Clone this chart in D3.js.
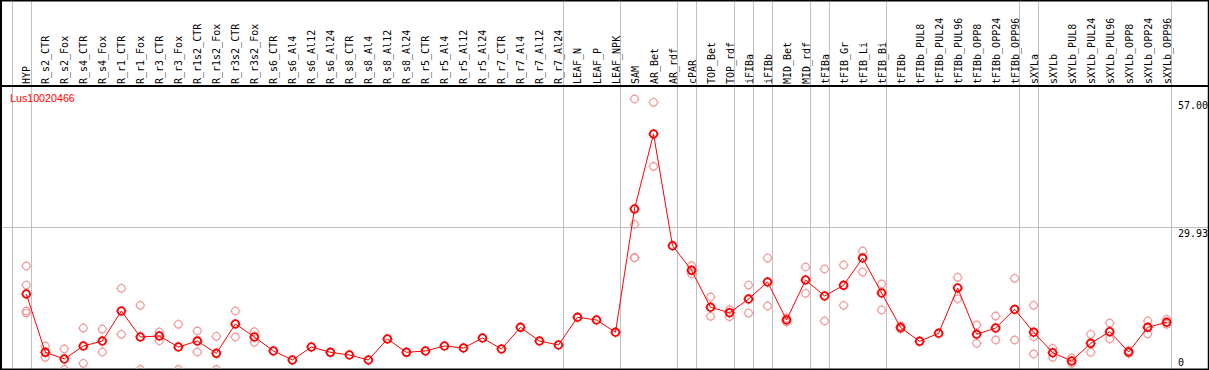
<!DOCTYPE html>
<html>
<head>
<meta charset="utf-8">
<script src="https://cdn.jsdelivr.net/npm/d3@7"></script>
<style>
  body { margin: 0; background: #fff; }
  svg { display: block; }
</style>
</head>
<body>
<script>
var categories = ["HYP", "R_s2_CTR", "R_s2_Fox", "R_s4_CTR", "R_s4_Fox", "R_r1_CTR", "R_r1_Fox",
  "R_r3_CTR", "R_r3_Fox", "R_r1s2_CTR", "R_r1s2_Fox", "R_r3s2_CTR", "R_r3s2_Fox", "R_s6_CTR",
  "R_s6_Al4", "R_s6_Al12", "R_s6_Al24", "R_s8_CTR", "R_s8_Al4", "R_s8_Al12", "R_s8_Al24",
  "R_r5_CTR", "R_r5_Al4", "R_r5_Al12", "R_r5_Al24", "R_r7_CTR", "R_r7_Al4", "R_r7_Al12", "R_r7_Al24",
  "LEAF_N", "LEAF_P", "LEAF_NPK", "SAM", "AR_Bet", "AR_rdf", "cPAR", "TOP_Bet", "TOP_rdf",
  "iFIBa", "iFIBb", "MID_Bet", "MID_rdf", "tFIBa", "tFIB_Gr", "tFIB_Li", "tFIB_Bi", "tFIBb",
  "tFIBb_PUL8", "tFIBb_PUL24", "tFIBb_PUL96", "tFIBb_OPP8", "tFIBb_OPP24", "tFIBb_OPP96",
  "sXYLa", "sXYLb", "sXYLb_PUL8", "sXYLb_PUL24", "sXYLb_PUL96", "sXYLb_OPP8", "sXYLb_OPP24", "sXYLb_OPP96"];

// mean expression per sample
var means = [15.91, 3.62, 2.21, 4.95, 6.00, 12.33, 6.85, 7.06, 4.74, 6.00, 3.41, 9.59, 6.85, 3.90,
  2.00, 4.74, 3.62, 3.06, 2.00, 6.43, 3.62, 3.90, 4.95, 4.53, 6.64, 4.32, 8.89, 6.00, 5.16,
  11.00, 10.43, 7.84, 33.82, 49.62, 26.08, 20.90, 13.11, 11.97, 14.85, 18.44, 10.43, 18.86,
  15.49, 17.74, 23.49, 16.12, 8.85, 5.94, 7.63, 17.17, 7.42, 8.74, 12.68, 7.84, 3.54, 1.79,
  5.52, 7.96, 3.69, 8.89, 9.95];

// replicate values per sample
var reps = [[21.81, 17.80, 12.33, 11.90], [4.95, 2.57], [4.32, 0], [8.74, 1.31], [8.53, 3.69],
  [17.11, 7.42], [13.53, 0], [7.90, 6.07], [9.52, 0], [8.11, 3.69], [7.00, 0], [12.33, 6.85],
  [7.96, 5.73], [], [], [], [], [], [], [], [], [], [], [], [], [], [], [], [],
  [], [], [], [57.0, 30.59, 23.56, 23.56], [56.30, 42.81], [], [21.87, 20.19], [15.28, 11.21],
  [12.60, 11.13], [17.80, 11.90], [23.49, 13.38], [10.01, 10.85], [21.60, 16.06], [21.18, 10.22],
  [22.02, 13.53], [24.97, 20.54], [18.02, 12.54], [9.17, 8.53], [], [], [19.43, 14.92],
  [9.38, 5.52], [11.27, 6.22], [19.22, 6.22], [13.53, 6.91, 3.27], [4.47, 2.57], [2.42, 1.31],
  [7.42, 3.62], [9.80, 6.43], [3.96, 3.41], [10.22, 7.48], [10.58, 9.52]];

// last sample of each group (grey separators)
var groupEnds = ["HYP", "R_r7_Al24", "LEAF_NPK", "AR_rdf", "cPAR", "TOP_rdf", "iFIBa", "iFIBb",
  "MID_rdf", "tFIBa", "tFIB_Bi", "tFIBb_OPP96", "sXYLa", "sXYLb_OPP96"];

var yTicks = [0, 29.93, 57];
var geneId = "Lus10020466";

var width = 1209, height = 370,
    headerH = 86, plotBottom = 369;

var x = d3.scalePoint().domain(categories).range([26.3, 1166.7]);
var y = d3.scaleLinear().domain([0, 57]).range([369.5, 99]);
var step = x.step();

var svg = d3.select("body").append("svg")
    .attr("width", width)
    .attr("height", height);

svg.append("rect").attr("width", width).attr("height", height).attr("fill", "#fff");

// grey vertical separators
var seps = [x(categories[0]) - step].concat(groupEnds.map(function (c) { return x(c); }));
svg.selectAll(".sep")
    .data(seps)
    .enter().append("line")
    .attr("class", "sep")
    .attr("x1", function (d) { return Math.round(d + 4.5) + 0.5; })
    .attr("x2", function (d) { return Math.round(d + 4.5) + 0.5; })
    .attr("y1", 0)
    .attr("y2", height)
    .attr("stroke", "#c0c0c0")
    .attr("stroke-width", 1);

// grey horizontal grid line at middle tick
svg.append("line")
    .attr("x1", 1).attr("x2", width - 1)
    .attr("y1", Math.round(y(yTicks[1])) + 0.5)
    .attr("y2", Math.round(y(yTicks[1])) + 0.5)
    .attr("stroke", "#c0c0c0");

// y labels on right
svg.selectAll(".ylab")
    .data(yTicks)
    .enter().append("text")
    .attr("class", "ylab")
    .attr("x", 1178)
    .attr("y", function (d) { return Math.min(y(d) + 10, 366); })
    .attr("font-family", "DejaVu Sans Mono, monospace")
    .attr("font-size", "10px")
    .attr("fill", "#000")
    .text(function (d) { return d === 0 ? "0" : d.toFixed(2); });

// frame
var frame = svg.append("g").attr("stroke", "#000").attr("fill", "none");
frame.append("line").attr("x1", 0).attr("x2", width).attr("y1", 0.5).attr("y2", 0.5).attr("stroke-width", 2);
frame.append("line").attr("x1", 0).attr("x2", width).attr("y1", headerH).attr("y2", headerH).attr("stroke-width", 2);
frame.append("line").attr("x1", 1).attr("x2", 1).attr("y1", 0).attr("y2", height).attr("stroke-width", 2);
frame.append("line").attr("x1", width - 0.5).attr("x2", width - 0.5).attr("y1", 0).attr("y2", height).attr("stroke-width", 1.5);
frame.append("line").attr("x1", 0).attr("x2", width).attr("y1", plotBottom + 0.5).attr("y2", plotBottom + 0.5).attr("stroke-width", 2);

// rotated sample labels
svg.selectAll(".lab")
    .data(categories)
    .enter().append("text")
    .attr("class", "lab")
    .attr("transform", function (d) { return "translate(" + (x(d) + 4) + "," + (headerH - 2) + ") rotate(-90)"; })
    .attr("font-family", "DejaVu Sans Mono, monospace")
    .attr("font-size", "10px")
    .attr("fill", "#000")
    .text(function (d) { return d; });

// gene id
svg.append("text")
    .attr("x", 10)
    .attr("y", 101.5)
    .attr("font-family", "Liberation Sans, Arial, sans-serif")
    .attr("font-size", "10.7px")
    .attr("fill", "#ff0000")
    .text(geneId);

// plot area
svg.append("defs").append("clipPath")
    .attr("id", "clip")
    .append("rect")
    .attr("x", 2).attr("y", headerH + 1)
    .attr("width", width - 4).attr("height", plotBottom - headerH - 1);

var plot = svg.append("g").attr("clip-path", "url(#clip)");

function marker(sel, color, sw) {
  sel.append("circle")
      .attr("r", 3.8)
      .attr("fill", "none")
      .attr("stroke", color)
      .attr("stroke-width", sw);
  sel.append("path")
      .attr("d", "M0,-5.2V-4.4M0,4.4V5.2M-5.2,0H-4.4M4.4,0H5.2")
      .attr("stroke", color)
      .attr("stroke-width", 0.9);
}

var repPts = [];
reps.forEach(function (r, i) {
  r.forEach(function (v) { repPts.push({c: categories[i], v: v}); });
});

plot.selectAll(".rep")
    .data(repPts)
    .enter().append("g")
    .attr("class", "rep")
    .attr("transform", function (d) { return "translate(" + x(d.c) + "," + y(d.v) + ")"; })
    .call(marker, "#f09898", 1.2);

var line = d3.line()
    .x(function (d, i) { return x(categories[i]); })
    .y(function (d) { return y(d); });

plot.append("path")
    .datum(means)
    .attr("d", line)
    .attr("fill", "none")
    .attr("stroke", "#ff0000")
    .attr("stroke-width", 1);

plot.selectAll(".mean")
    .data(means)
    .enter().append("g")
    .attr("class", "mean")
    .attr("transform", function (d, i) { return "translate(" + x(categories[i]) + "," + y(d) + ")"; })
    .call(marker, "#ff0000", 1.8);
</script>
</body>
</html>
